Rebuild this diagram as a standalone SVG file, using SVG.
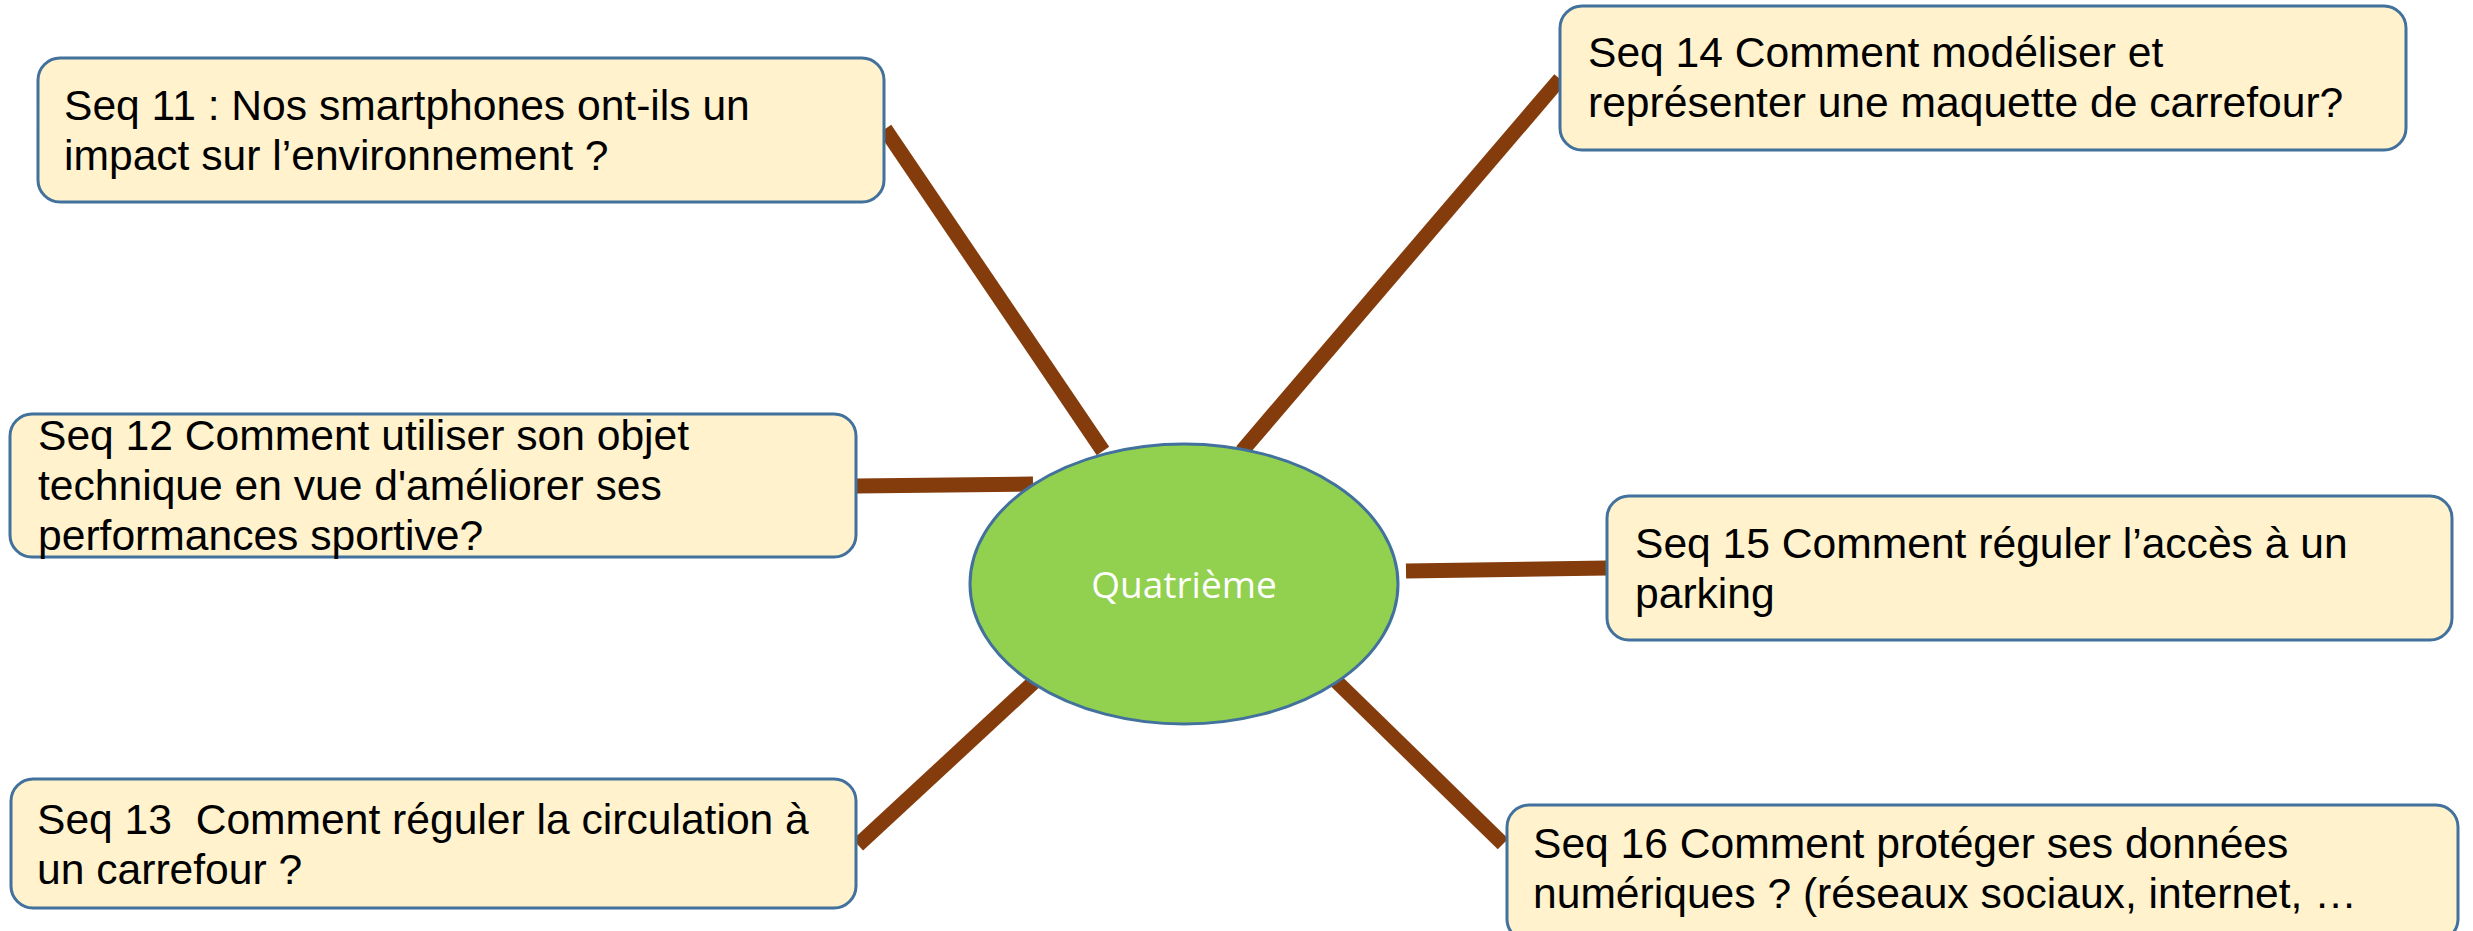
<svg xmlns="http://www.w3.org/2000/svg" width="2473" height="931" viewBox="0 0 2473 931">
<style>
.box{fill:#FFF2CC;stroke:#41719C;stroke-width:3}
.t{font-family:"Liberation Sans",Arial,sans-serif;font-size:42.6px;fill:#000;white-space:pre}
.c{stroke:#843C0C;stroke-width:15;stroke-linecap:butt;fill:none}
.ctr{fill:#92D050;stroke:#41719C;stroke-width:3}
.ct{font-family:"Open Sans","Liberation Sans",sans-serif;font-size:37px;fill:#fff;text-anchor:middle}
</style>
<rect width="2473" height="931" fill="#fff"/>
<g id="connectors">
<line class="c" x1="885" y1="129" x2="1103" y2="451"/>
<line class="c" x1="856" y1="486" x2="1033" y2="484"/>
<line class="c" x1="1034" y1="682" x2="858" y2="845"/>
<line class="c" x1="1242" y1="451" x2="1560" y2="79"/>
<line class="c" x1="1406" y1="571" x2="1607" y2="568"/>
<line class="c" x1="1336" y1="681" x2="1503" y2="844"/>
</g>
<g id="center">
<ellipse class="ctr" cx="1184" cy="584" rx="214" ry="140"/>
<text class="ct" x="1184" y="598">Quatrième</text>
</g>
<g id="seq11">
<rect class="box" x="38" y="58" width="846" height="144" rx="22"/>
<text class="t" x="64" y="120">Seq 11 : Nos smartphones ont-ils un</text>
<text class="t" x="64" y="170">impact sur l’environnement ?</text>
</g>
<g id="seq12">
<rect class="box" x="10" y="414" width="846" height="143" rx="22"/>
<text class="t" x="38" y="450">Seq 12 Comment utiliser son objet</text>
<text class="t" x="38" y="500">technique en vue d'améliorer ses</text>
<text class="t" x="38" y="550">performances sportive?</text>
</g>
<g id="seq13">
<rect class="box" x="11" y="779" width="845" height="129" rx="22"/>
<text class="t" x="37" y="834" xml:space="preserve">Seq 13  Comment réguler la circulation à</text>
<text class="t" x="37" y="884">un carrefour ?</text>
</g>
<g id="seq14">
<rect class="box" x="1560" y="6" width="846" height="144" rx="22"/>
<text class="t" x="1588" y="67">Seq 14 Comment modéliser et</text>
<text class="t" x="1588" y="117">représenter une maquette de carrefour?</text>
</g>
<g id="seq15">
<rect class="box" x="1607" y="496" width="845" height="144" rx="22"/>
<text class="t" x="1635" y="558">Seq 15 Comment réguler l’accès à un</text>
<text class="t" x="1635" y="608">parking</text>
</g>
<g id="seq16">
<rect class="box" x="1507" y="805" width="951" height="136" rx="22"/>
<text class="t" x="1533" y="858">Seq 16 Comment protéger ses données</text>
<text class="t" x="1533" y="908">numériques ? (réseaux sociaux, internet, …</text>
</g>
</svg>
